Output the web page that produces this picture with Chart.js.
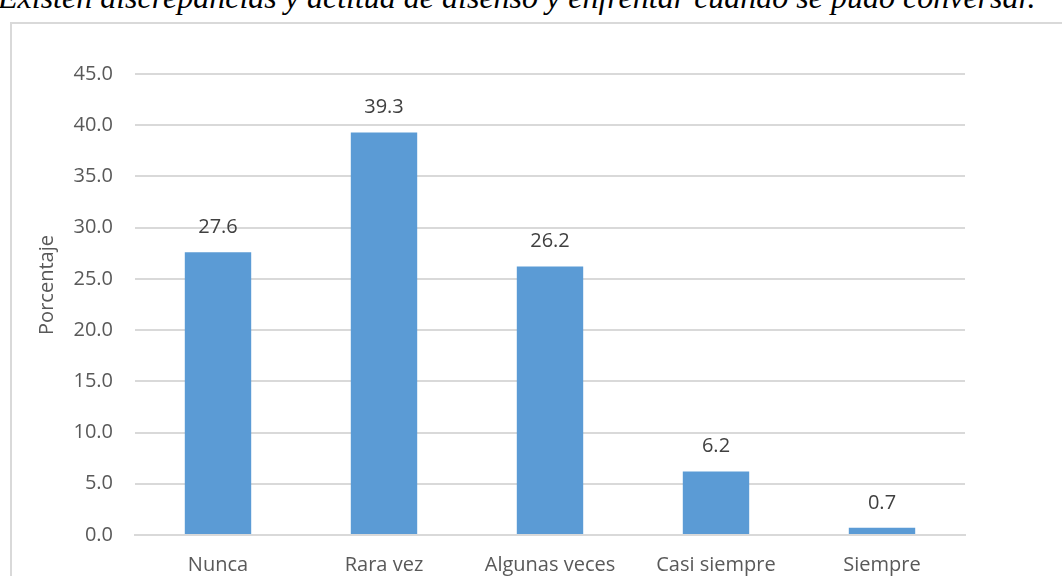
<!DOCTYPE html>
<html>
<head>
<meta charset="utf-8">
<script src="https://cdn.jsdelivr.net/npm/chart.js@4/dist/chart.umd.min.js"></script>
<style>
    html, body { margin: 0; padding: 0; background: #fff; overflow: hidden; }
    #page { position: relative; width: 1062px; height: 576px; overflow: hidden; }
    #caption {
        position: absolute; left: -2px; top: -19px; white-space: nowrap; line-height: 1;
        font-family: "Liberation Serif", serif; font-style: italic; font-size: 32px; color: #000;
    }
    #frame {
        position: absolute; left: 10px; top: 22px; width: 1100px; height: 600px;
        border: 2px solid #d9d9d9; box-sizing: border-box;
    }
    #wrap { position: absolute; left: 0; top: 0; width: 1062px; height: 576px; }
</style>
</head>
<body>
<div id="page">
    <div id="caption">Existen discrepancias y actitud de disenso y enfrentar cuando se pudo conversar.</div>
    <div id="frame"></div>
    <div id="wrap"><canvas id="chart"></canvas></div>
</div>
<script>
// datos
const categories = ['Nunca', 'Rara vez', 'Algunas veces', 'Casi siempre', 'Siempre'];
const porcentajes = [27.6, 39.3, 26.2, 6.2, 0.7];
const yTicks = [0, 5, 10, 15, 20, 25, 30, 35, 40, 45];
const yTitle = 'Porcentaje';

const fontFamily = '"Open Sans", "Noto Sans", sans-serif';
const fontSize = 20;

// etiquetas encima de las barras + título del eje Y
const barLabels = {
    id: 'barLabels',
    afterDatasetsDraw(chart) {
        const ctx = chart.ctx;
        const meta = chart.getDatasetMeta(0);
        ctx.save();
        ctx.font = fontSize + 'px ' + fontFamily;
        ctx.fillStyle = '#404040';
        ctx.textAlign = 'center';
        ctx.textBaseline = 'middle';
        meta.data.forEach((bar, i) => {
            ctx.fillText(porcentajes[i].toFixed(1), bar.x, bar.y - 25);
        });
        ctx.fillStyle = '#595959';
        ctx.translate(47, 285);
        ctx.rotate(-Math.PI / 2);
        ctx.fillText(yTitle, 0, 0);
        ctx.restore();
    }
};

new Chart(document.getElementById('chart'), {
    type: 'bar',
    data: {
        labels: categories,
        datasets: [{
            data: porcentajes,
            backgroundColor: '#5b9bd5',
            categoryPercentage: 1,
            barPercentage: 0.4
        }]
    },
    options: {
        responsive: true,
        maintainAspectRatio: false,
        animation: false,
        layout: { padding: { left: 28, right: 97, top: 74, bottom: 0 } },
        plugins: { legend: { display: false }, tooltip: { enabled: false } },
        scales: {
            x: {
                grid: { display: false, drawTicks: false },
                border: { color: '#d9d9d9', width: 2 },
                ticks: { color: '#595959', font: { family: fontFamily, size: fontSize }, padding: 18 },
                afterFit: s => { s.height = 41; }
            },
            y: {
                min: 0,
                max: 45,
                afterBuildTicks: s => { s.ticks = yTicks.map(v => ({ value: v })); },
                grid: { color: '#d9d9d9', lineWidth: 2, drawTicks: false },
                border: { display: false },
                ticks: {
                    color: '#595959',
                    font: { family: fontFamily, size: fontSize },
                    padding: 22,
                    callback: v => v.toFixed(1)
                },
                afterFit: s => { s.width = 107; }
            }
        }
    },
    plugins: [barLabels]
});
</script>
</body>
</html>
